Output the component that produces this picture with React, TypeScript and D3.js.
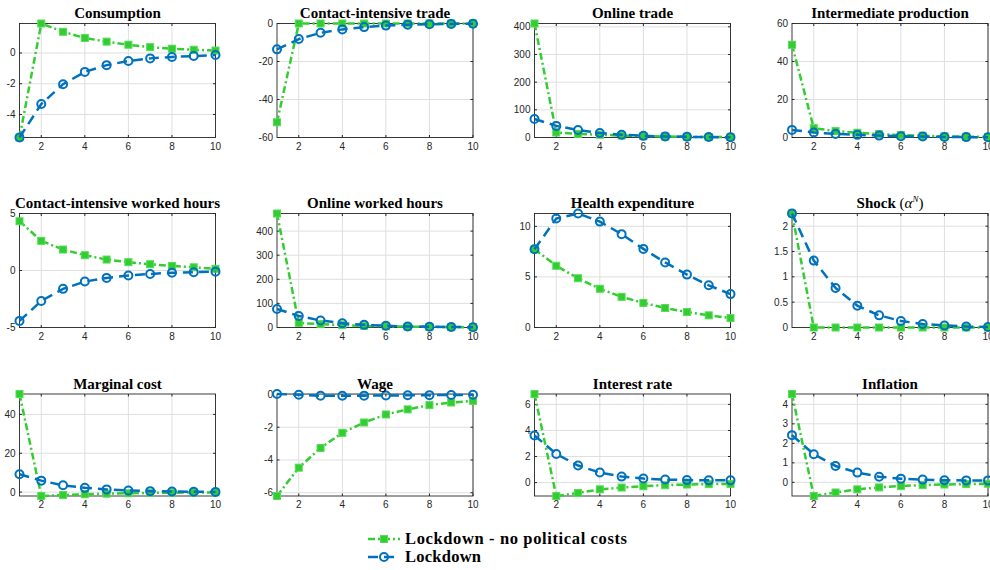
import * as d3 from "d3";

// horizon (quarters)
const periods = [1, 2, 3, 4, 5, 6, 7, 8, 9, 10];
const xTicks = [2, 4, 6, 8, 10];

const titles = [
  "Consumption",
  "Contact-intensive trade",
  "Online trade",
  "Intermediate production",
  "Contact-intensive worked hours",
  "Online worked hours",
  "Health expenditure",
  "Shock",
  "Marginal cost",
  "Wage",
  "Interest rate",
  "Inflation",
];

const legendLabels = ["Lockdown - no political costs", "Lockdown"];

// "Lockdown - no political costs" (green) and "Lockdown" (blue)
const consumptionNoPol = [-5.5, 1.92, 1.38, 0.98, 0.74, 0.54, 0.38, 0.28, 0.21, 0.16];
const consumptionLock = [-5.5, -3.32, -2.03, -1.23, -0.79, -0.52, -0.35, -0.26, -0.2, -0.13];

const contactTradeNoPol = [-52, 0, 0, 0, 0, 0, 0, 0, 0, 0];
const contactTradeLock = [-13.6, -8.2, -4.9, -3.1, -1.9, -1.1, -0.6, -0.4, -0.2, -0.1];

const onlineTradeNoPol = [412, 18, 13, 10, 7, 5, 3.5, 2.5, 1.7, 1.2];
const onlineTradeLock = [67, 42, 27, 16, 10, 6, 4, 2.5, 1.5, 1];

const intermediateNoPol = [48.8, 4.9, 3.4, 2.5, 1.8, 1.3, 0.9, 0.6, 0.4, 0.3];
const intermediateLock = [4.0, 2.6, 1.9, 1.4, 1.0, 0.7, 0.5, 0.3, 0.2, 0.15];

const contactHoursNoPol = [4.32, 2.6, 1.84, 1.34, 0.96, 0.73, 0.55, 0.4, 0.28, 0.15];
const contactHoursLock = [-4.42, -2.67, -1.61, -0.97, -0.65, -0.44, -0.3, -0.2, -0.15, -0.1];

const onlineHoursNoPol = [473, 19, 14, 10, 7, 5, 3.5, 2.5, 1.7, 1.2];
const onlineHoursLock = [77, 48, 29, 18, 11, 7, 4.5, 3, 2, 1.2];

const healthNoPol = [7.74, 6.1, 4.87, 3.83, 3.03, 2.43, 1.93, 1.53, 1.2, 0.93];
const healthLock = [7.74, 10.77, 11.27, 10.47, 9.23, 7.77, 6.43, 5.23, 4.17, 3.3];

const shockNoPol = [2.25, 0, 0, 0, 0, 0, 0, 0, 0, 0];
const shockLock = [2.25, 1.32, 0.78, 0.43, 0.24, 0.13, 0.07, 0.04, 0.02, 0.01];

const marginalCostNoPol = [50.5, -2.0, -1.5, -1.1, -0.8, -0.6, -0.4, -0.3, -0.2, -0.15];
const marginalCostLock = [9.2, 5.9, 3.5, 2.2, 1.4, 0.85, 0.5, 0.3, 0.2, 0.1];

const wageNoPol = [-6.2, -4.47, -3.27, -2.34, -1.71, -1.22, -0.91, -0.65, -0.49, -0.39];
const wageLock = [0.03, -0.02, -0.08, -0.08, -0.07, -0.06, -0.05, -0.04, -0.03, -0.02];

const interestNoPol = [6.8, -1.03, -0.8, -0.52, -0.38, -0.28, -0.2, -0.15, -0.12, -0.1];
const interestLock = [3.62, 2.2, 1.31, 0.77, 0.46, 0.31, 0.23, 0.19, 0.17, 0.17];

const inflationNoPol = [4.53, -0.7, -0.52, -0.36, -0.26, -0.19, -0.14, -0.11, -0.09, -0.07];
const inflationLock = [2.42, 1.44, 0.84, 0.5, 0.29, 0.19, 0.14, 0.11, 0.1, 0.1];

const noPolSeries = [
  consumptionNoPol, contactTradeNoPol, onlineTradeNoPol, intermediateNoPol,
  contactHoursNoPol, onlineHoursNoPol, healthNoPol, shockNoPol,
  marginalCostNoPol, wageNoPol, interestNoPol, inflationNoPol,
];
const lockSeries = [
  consumptionLock, contactTradeLock, onlineTradeLock, intermediateLock,
  contactHoursLock, onlineHoursLock, healthLock, shockLock,
  marginalCostLock, wageLock, interestLock, inflationLock,
];

const yDomains: [number, number][] = [
  [-5.5, 1.92], [-60, 0], [0, 412], [0, 60],
  [-5, 5], [0, 473], [0, 11.27], [0, 2.25],
  [-2, 50.5], [-6.2, 0.03], [-1.03, 6.8], [-0.7, 4.53],
];
const yTicks = [
  [-4, -2, 0], [-60, -40, -20, 0], [0, 100, 200, 300, 400], [0, 20, 40, 60],
  [-5, 0, 5], [0, 100, 200, 300, 400], [0, 5, 10], [0, 0.5, 1, 1.5, 2],
  [0, 20, 40], [-6, -4, -2, 0], [0, 2, 4, 6], [0, 1, 2, 3, 4],
];

// layout
const W = 990;
const H = 570;
const colLeft = [19.5, 277, 534.5, 792];
const plotW = 196;
const rowTop = [23.5, 213.5, 394];
const rowH = [114, 114, 102];

const GREEN = "#33cc33";
const BLUE = "#0072bd";
const AXIS = "#262626";
const GRID = "#dfdfdf";
const tickFont = "'Liberation Sans', Arial, sans-serif";
const titleFont = "'Liberation Serif', 'Times New Roman', serif";
const greenDash = "7,3,2,3";
const blueDash = "10,6";

const Square = ({ x, y }: { x: number; y: number }) => (
  <rect x={x - 3.5} y={y - 3.5} width={7} height={7} fill={GREEN} stroke="#55dd55" strokeWidth={1} />
);
const Circle = ({ x, y }: { x: number; y: number }) => (
  <circle cx={x} cy={y} r={4} fill="none" stroke={BLUE} strokeWidth={2} />
);

const Panel = ({ i }: { i: number }) => {
  const left = colLeft[i % 4];
  const top = rowTop[Math.floor(i / 4)];
  const h = rowH[Math.floor(i / 4)];
  const x = d3.scaleLinear().domain([1, 10]).range([left, left + plotW]);
  const y = d3.scaleLinear().domain(yDomains[i]).range([top + h, top]);
  const line = d3
    .line<number>()
    .x((_, k) => x(periods[k]))
    .y((d) => y(d));
  const green = noPolSeries[i];
  const blue = lockSeries[i];
  const cx = left + plotW / 2;

  return (
    <g>
      <rect x={left} y={top} width={plotW} height={h} fill="#fff" />
      {xTicks.map((t) => (
        <line key={"gx" + t} x1={x(t)} x2={x(t)} y1={top} y2={top + h} stroke={GRID} strokeWidth={1} />
      ))}
      {yTicks[i].map((t) => (
        <line key={"gy" + t} x1={left} x2={left + plotW} y1={y(t)} y2={y(t)} stroke={GRID} strokeWidth={1} />
      ))}
      <rect x={left} y={top} width={plotW} height={h} fill="none" stroke={AXIS} strokeWidth={0.9} />
      {xTicks.map((t) => (
        <g key={"tx" + t}>
          <line x1={x(t)} x2={x(t)} y1={top + h} y2={top + h - 2.5} stroke={AXIS} />
          <line x1={x(t)} x2={x(t)} y1={top} y2={top + 2.5} stroke={AXIS} />
          <text x={x(t)} y={top + h + 12} textAnchor="middle" fontSize={10} fontFamily={tickFont} fill={AXIS}>
            {t}
          </text>
        </g>
      ))}
      {yTicks[i].map((t) => (
        <g key={"ty" + t}>
          <line x1={left} x2={left + 2.5} y1={y(t)} y2={y(t)} stroke={AXIS} />
          <line x1={left + plotW} x2={left + plotW - 2.5} y1={y(t)} y2={y(t)} stroke={AXIS} />
          <text x={left - 4} y={y(t) + 3.5} textAnchor="end" fontSize={10} fontFamily={tickFont} fill={AXIS}>
            {t}
          </text>
        </g>
      ))}
      <path d={line(green) ?? ""} fill="none" stroke={GREEN} strokeWidth={2.5} strokeDasharray={greenDash} />
      {green.map((v, k) => (
        <Square key={"s" + k} x={x(periods[k])} y={y(v)} />
      ))}
      <path d={line(blue) ?? ""} fill="none" stroke={BLUE} strokeWidth={2.5} strokeDasharray={blueDash} />
      {blue.map((v, k) => (
        <Circle key={"c" + k} x={x(periods[k])} y={y(v)} />
      ))}
      <text x={cx} y={top - 5.5} textAnchor="middle" fontSize={15} fontWeight="bold" fontFamily={titleFont} fill="#000">
        {titles[i]}
        {i === 7 && (
          <tspan fontWeight="normal">
            {" ("}
            <tspan fontStyle="italic">α</tspan>
            <tspan fontStyle="italic" fontSize={9} dy={-6}>N</tspan>
            <tspan dy={6}>)</tspan>
          </tspan>
        )}
      </text>
    </g>
  );
};

export default function App() {
  return (
    <svg width={W} height={H} style={{ position: "absolute", left: 0, top: 0, background: "#fff" }}>
      {titles.map((_, i) => (
        <Panel key={i} i={i} />
      ))}
      {/* legend */}
      <g>
        <line x1={368} x2={400} y1={539} y2={539} stroke={GREEN} strokeWidth={2.5} strokeDasharray={greenDash} />
        <Square x={384} y={539} />
        <text x={405} y={544} fontSize={16.5} fontWeight="bold" fontFamily={titleFont} fill="#000" textLength={222}>
          {legendLabels[0]}
        </text>
        <line x1={368} x2={400} y1={557} y2={557} stroke={BLUE} strokeWidth={2.5} strokeDasharray={blueDash} />
        <Circle x={384} y={557} />
        <text x={405} y={562} fontSize={16.5} fontWeight="bold" fontFamily={titleFont} fill="#000" textLength={76}>
          {legendLabels[1]}
        </text>
      </g>
    </svg>
  );
}
